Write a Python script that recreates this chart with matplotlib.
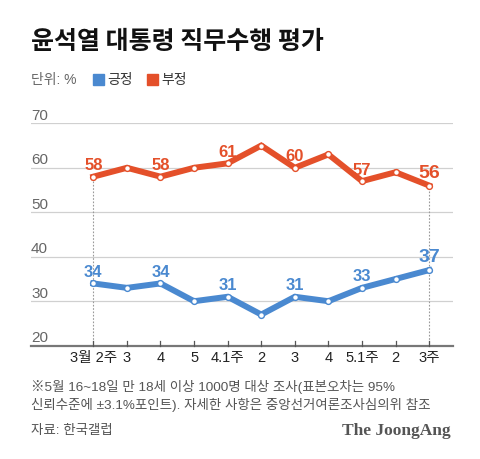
import matplotlib

matplotlib.use("Agg")
import matplotlib.pyplot as plt

plt.rcParams["font.family"] = ["Liberation Sans", "Noto Sans CJK KR", "DejaVu Sans"]

weeks = ["3월 2주", "3", "4", "5", "4.1주", "2", "3", "4", "5.1주", "2", "3주"]
positive = [34, 33, 34, 30, 31, 27, 31, 30, 33, 35, 37]
negative = [58, 60, 58, 60, 61, 65, 60, 63, 57, 59, 56]
yticks = [20, 30, 40, 50, 60, 70]

RED = "#E4502A"
BLUE = "#4A89D0"
GRAY = "#666666"

fig = plt.figure(figsize=(4.8, 4.6), dpi=100)
fig.patch.set_facecolor("white")
ax = fig.add_axes([31 / 480, 1 - 346.7 / 460, 422 / 480, 222.4 / 460])
x = list(range(len(weeks)))
ax.set_xlim(-1.856, 10.71)
ax.set_ylim(20, 70)
for s in ax.spines.values():
    s.set_visible(False)
ax.set_xticks([])
ax.set_yticks([])

# grid + labels
for v in yticks:
    if v == 20:
        ax.axhline(v, color="#777777", lw=1.6, zorder=1, clip_on=False)
    else:
        ax.axhline(v, color="#d0d0d0", lw=0.9, zorder=1)
    ax.text(-1.856, v + 0.35, str(v), ha="left", va="bottom", fontsize=11,
            color=GRAY)

# ticks and x labels
for i, w in enumerate(weeks):
    ax.plot([i, i], [20, 21], color="#555555", lw=0.9, clip_on=False, zorder=2)
    ax.text(i, 17.4, w, ha="center", va="center", fontsize=10.5, color="#222222")

# guide lines at start and end
for i in (0, len(weeks) - 1):
    ax.plot([i, i], [20, negative[i]], color="#999999", lw=0.8, ls=(0, (1.5, 1.5)), zorder=1)

for vals, col in ((negative, RED), (positive, BLUE)):
    ax.plot(x, vals, color=col, lw=4.3, solid_joinstyle="miter", zorder=3)
    ax.plot(x, vals, ls="none", marker="o", ms=4.2, mfc="white", mec=col, mew=1.0, zorder=4)
    for i in range(0, len(vals), 2):
        last = i == len(vals) - 1
        ax.text(i, vals[i] + (3.0 if last else 2.7), str(vals[i]), ha="center", va="center",
                fontsize=14 if last else 12, fontweight="bold", color=col, zorder=5)

# header
fig.text(31 / 480, 1 - 42 / 460, "윤석열 대통령 직무수행 평가", fontsize=18, fontweight="heavy",
         family="Noto Sans CJK KR", va="center", ha="left", color="#111111")
fig.text(31 / 480, 1 - 80 / 460, "단위: %", fontsize=10, va="center", ha="left", color=GRAY)
fig.patches.append(plt.Rectangle((93 / 480, 1 - 86 / 460), 11 / 480, 11 / 460,
                                 transform=fig.transFigure, color=BLUE))
fig.text(107 / 480, 1 - 80 / 460, "긍정", fontsize=10, va="center", ha="left", color="#333333")
fig.patches.append(plt.Rectangle((147 / 480, 1 - 86 / 460), 11 / 480, 11 / 460,
                                 transform=fig.transFigure, color=RED))
fig.text(161 / 480, 1 - 80 / 460, "부정", fontsize=10, va="center", ha="left", color="#333333")

# footer
fig.text(31 / 480, 1 - 387 / 460, "※5월 16~18일 만 18세 이상 1000명 대상 조사(표본오차는 95%",
         fontsize=9.7, va="center", ha="left", color="#555555")
fig.text(31 / 480, 1 - 405 / 460, "신뢰수준에 ±3.1%포인트). 자세한 사항은 중앙선거여론조사심의위 참조",
         fontsize=9.7, va="center", ha="left", color="#555555")
fig.text(31 / 480, 1 - 431 / 460, "자료: 한국갤럽", fontsize=9.7, va="center", ha="left",
         color="#555555")
fig.text(451 / 480, 1 - 431 / 460, "The JoongAng", fontsize=12.5, fontweight="bold",
         family="Liberation Serif", va="center", ha="right", color="#555555")

fig.savefig("out.png", dpi=100)
